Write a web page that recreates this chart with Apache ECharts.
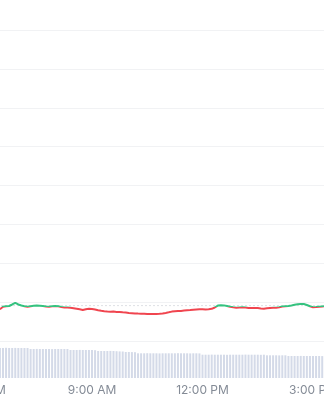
<!DOCTYPE html>
<html>
<head>
<meta charset="utf-8">
<script src="https://cdn.jsdelivr.net/npm/echarts@6/dist/echarts.min.js"></script>
<style>html,body{margin:0;padding:0;background:#fff;}#c{width:324px;height:400px;}</style>
</head>
<body>
<div id="c"></div>
<script>
// sampling: 5-minute points starting 6:30 AM (minutes after midnight)
const startMinute = 390;
const stepMinutes = 5;
const tickMinutes = [360, 540, 720, 900, 1080];
const openPrice = 9.1;
const colorThreshold = 8.7;

const prices = [
  8.15, 8.80, 8.93, 9.00, 9.39, 9.83, 9.39, 9.13, 8.93, 8.82,
  8.95, 9.08, 9.11, 9.08, 9.00, 8.90, 8.82, 8.93, 9.03, 8.93,
  8.75, 8.64, 8.62, 8.54, 8.44, 8.31, 8.15, 7.97, 8.15, 8.31,
  8.23, 8.08, 7.92, 7.77, 7.67, 7.59, 7.54, 7.56, 7.49, 7.46,
  7.38, 7.31, 7.20, 7.15, 7.10, 7.05, 7.02, 7.00, 6.95, 6.95,
  6.92, 6.97, 7.02, 7.10, 7.23, 7.38, 7.56, 7.67, 7.72, 7.74,
  7.82, 7.90, 7.97, 8.05, 8.10, 8.15, 8.15, 8.13, 8.18, 8.28,
  8.62, 9.11, 9.18, 9.16, 9.00, 8.82, 8.69, 8.57, 8.62, 8.67,
  8.59, 8.49, 8.46, 8.51, 8.49, 8.39, 8.31, 8.41, 8.49, 8.54,
  8.57, 8.69, 8.87, 8.95, 9.00, 9.13, 9.31, 9.44, 9.49, 9.52,
  9.26, 8.93, 8.67, 8.72, 8.82, 8.90, 8.93
];

const volumes = [
  30.0, 30.0, 30.2, 30.0, 30.0, 30.1, 30.0, 30.0, 30.0, 30.0,
  29.0, 29.0, 29.1, 29.0, 29.0, 29.0, 29.0, 28.9, 29.0, 29.0,
  29.0, 29.0, 29.0, 28.0, 28.0, 28.0, 28.1, 28.0, 28.0, 28.0,
  28.0, 27.8, 27.0, 27.0, 27.0, 27.0, 27.1, 27.0, 26.8, 26.6,
  26.5, 26.0, 26.0, 25.9, 25.8, 24.7, 24.7, 24.7, 24.8, 24.7,
  24.7, 24.7, 24.6, 24.7, 24.7, 24.7, 24.7, 24.7, 24.8, 24.7,
  24.7, 24.7, 24.6, 24.7, 24.7, 24.6, 23.3, 23.3, 23.3, 23.4,
  23.3, 23.3, 23.3, 23.3, 23.2, 23.3, 23.3, 23.3, 23.3, 23.3,
  23.4, 23.3, 23.3, 23.3, 23.3, 23.2, 23.3, 22.7, 22.7, 22.7,
  22.7, 22.6, 22.7, 22.7, 22.0, 22.0, 22.0, 22.0, 22.1, 22.0,
  22.0, 22.0, 22.0, 22.0, 22.0, 21.9, 22.0
];

const times = prices.map((_, i) => startMinute + i * stepMinutes);

function fmtTime(m) {
  let h = Math.floor(m / 60) % 24;
  const mm = m % 60;
  const ap = h >= 12 ? 'PM' : 'AM';
  let h12 = h % 12; if (h12 === 0) h12 = 12;
  return h12 + ':' + (mm < 10 ? '0' + mm : mm) + ' ' + ap;
}

const chart = echarts.init(document.getElementById('c'), null, {renderer: 'canvas'});
const gridLeft = -18.5, gridRight = -99.5;
const xMin = tickMinutes[0], xMax = tickMinutes[tickMinutes.length - 1];
chart.setOption({
  animation: false,
  backgroundColor: '#ffffff',
  grid: [
    {left: gridLeft, right: gridRight, top: 30, bottom: 59, outerBoundsMode: 'none', containLabel: false},
    {left: gridLeft, right: gridRight, top: 338, bottom: 22, outerBoundsMode: 'none', containLabel: false}
  ],
  xAxis: [
    {type: 'value', gridIndex: 0, min: xMin, max: xMax, interval: 180,
     show: false, splitLine: {show: false}},
    {type: 'value', gridIndex: 1, min: xMin, max: xMax, interval: 180,
     axisLine: {show: false},
     axisTick: {show: true, inside: true, length: 4, lineStyle: {color: '#9aa0a9', width: 1}},
     splitLine: {show: false},
     axisLabel: {margin: 6, color: '#848b96', fontSize: 12, fontFamily: 'Inter, Roboto, sans-serif',
                 hideOverlap: false, formatter: v => fmtTime(v)}}
  ],
  yAxis: [
    {type: 'value', gridIndex: 0, min: 0, max: 80, interval: 10,
     axisLine: {show: false}, axisTick: {show: false}, axisLabel: {show: false},
     splitLine: {show: true, lineStyle: {color: '#f1f2f4', width: 1}}},
    {type: 'value', gridIndex: 1, min: 0, max: 40,
     show: false, splitLine: {show: false}}
  ],
  visualMap: {
    type: 'piecewise', show: false, seriesIndex: 0, dimension: 1,
    pieces: [
      {min: 0, max: colorThreshold, color: '#f0454f'},
      {min: colorThreshold, max: 80, color: '#35c27f'}
    ]
  },
  series: [
    {
      type: 'line', xAxisIndex: 0, yAxisIndex: 0,
      data: times.map((t, i) => [t, prices[i]]),
      showSymbol: false, symbol: 'none',
      lineStyle: {width: 2},
      z: 5
    },
    {
      type: 'line', xAxisIndex: 0, yAxisIndex: 0,
      data: [[xMin, openPrice], [xMax, openPrice]],
      showSymbol: false, symbol: 'none', silent: true,
      lineStyle: {color: '#bcc1c9', type: [1, 3], width: 1},
      z: 3
    },
    {
      type: 'bar', xAxisIndex: 1, yAxisIndex: 1,
      data: times.map((t, i) => [t, volumes[i]]),
      barWidth: 2,
      itemStyle: {color: '#d4dae8'},
      z: 2
    }
  ]
});
</script>
</body>
</html>
